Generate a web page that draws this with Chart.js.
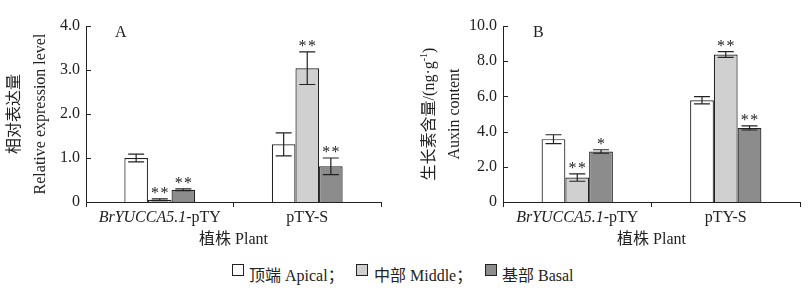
<!DOCTYPE html>
<html>
<head>
<meta charset="utf-8">
<script src="https://cdn.jsdelivr.net/npm/chart.js@4"></script>
<style>
  html, body { margin: 0; padding: 0; background: #fff; }
  #wrap { position: relative; width: 810px; height: 288px; overflow: hidden; }
  #cA { position: absolute; left: 0; top: 0; }
  #cB { position: absolute; left: 400px; top: 0; }
  .lg { position: absolute; top: 262px; font: 16px "Liberation Serif", "Noto Sans CJK SC", serif; color: #222; white-space: nowrap; }
  .box { position: absolute; top: 264px; width: 10px; height: 10px; border: 1px solid #222; }
</style>
</head>
<body>
<div id="wrap">
  <canvas id="cA" width="400" height="250"></canvas>
  <canvas id="cB" width="410" height="250"></canvas>
  <div class="box" style="left:232px;background:#fff"></div>
  <div class="lg" style="left:249px">顶端 Apical；</div>
  <div class="box" style="left:356px;background:#d0d0d0"></div>
  <div class="lg" style="left:374px">中部 Middle；</div>
  <div class="box" style="left:485px;background:#8c8c8c"></div>
  <div class="lg" style="left:502px">基部 Basal</div>
</div>
<script>
// Panel A: relative expression, Panel B: auxin content.
const categories = ['BrYUCCA5.1-pTY', 'pTY-S'];
const seriesNames = ['顶端 Apical', '中部 Middle', '基部 Basal'];
const seriesColors = ['#ffffff', '#d0d0d0', '#8c8c8c'];

const exprApical = [1.0, 1.31];
const exprMiddle = [0.05, 3.04];
const exprBasal = [0.28, 0.81];
const exprApicalErr = [0.09, 0.26];
const exprMiddleErr = [0.02, 0.37];
const exprBasalErr = [0.02, 0.19];
const exprStars = [['', ''], ['**', '**'], ['**', '**']];
const exprTicks = ['0', '1.0', '2.0', '3.0', '4.0'];

const auxApical = [3.57, 5.78];
const auxMiddle = [1.39, 8.38];
const auxBasal = [2.87, 4.21];
const auxApicalErr = [0.25, 0.21];
const auxMiddleErr = [0.21, 0.16];
const auxBasalErr = [0.1, 0.12];
const auxStars = [['', ''], ['**', '**'], ['*', '**']];
const auxTicks = ['0', '2.0', '4.0', '6.0', '8.0', '10.0'];

const SERIF = '"Liberation Serif", "Noto Sans CJK SC", serif';

// error bars, significance stars, inward y ticks, custom labels
const decorPlugin = {
  id: 'decor',
  afterDatasetsDraw(chart, args, o) {
    const ctx = chart.ctx;
    const ys = chart.scales.y, xs = chart.scales.x;
    ctx.save();
    ctx.strokeStyle = '#222';
    ctx.lineWidth = 1.2;
    chart.data.datasets.forEach((ds, i) => {
      const meta = chart.getDatasetMeta(i);
      meta.data.forEach((bar, j) => {
        const v = ds.data[j], e = ds.err[j];
        const yt = ys.getPixelForValue(v + e), yb = ys.getPixelForValue(v - e);
        ctx.beginPath();
        ctx.moveTo(bar.x, yt); ctx.lineTo(bar.x, yb);
        ctx.moveTo(bar.x - 8, yt); ctx.lineTo(bar.x + 8, yt);
        ctx.moveTo(bar.x - 8, yb); ctx.lineTo(bar.x + 8, yb);
        ctx.stroke();
        const s = ds.stars[j];
        if (s) {
          ctx.fillStyle = '#222';
          ctx.font = '16px ' + SERIF;
          ctx.textAlign = 'center';
          ctx.textBaseline = 'alphabetic';
          ctx.fillText(s.split('').join('\u200a'), bar.x, yt - 1);
        }
      });
    });
    // inward y ticks
    ctx.lineWidth = 1;
    ys.ticks.forEach(t => {
      const y = Math.round(ys.getPixelForValue(t.value)) + 0.5;
      ctx.beginPath();
      ctx.moveTo(ys.right, y); ctx.lineTo(ys.right + 5, y);
      ctx.stroke();
    });
    ctx.fillStyle = '#222';
    // panel letter
    ctx.font = '16px ' + SERIF;
    ctx.textAlign = 'left';
    ctx.textBaseline = 'middle';
    ctx.fillText(o.letter, o.letterX, 33);
    // category labels
    const lblY = 218;
    chart.data.labels.forEach((lab, j) => {
      const cx = xs.getPixelForValue(j);
      if (lab.startsWith('BrYUCCA5.1')) {
        const a = 'BrYUCCA5.1', b = lab.slice(a.length);
        ctx.font = 'italic 16px ' + SERIF;
        const wa = ctx.measureText(a).width;
        ctx.font = '16px ' + SERIF;
        const wb = ctx.measureText(b).width;
        const x0 = cx - (wa + wb) / 2;
        ctx.textAlign = 'left';
        ctx.font = 'italic 16px ' + SERIF;
        ctx.fillText(a, x0, lblY);
        ctx.font = '16px ' + SERIF;
        ctx.fillText(b, x0 + wa, lblY);
      } else {
        ctx.textAlign = 'center';
        ctx.font = '16px ' + SERIF;
        ctx.fillText(lab, cx, lblY);
      }
    });
    // x title
    ctx.textAlign = 'center';
    ctx.font = '16px ' + SERIF;
    ctx.fillText('植株 Plant', (xs.left + xs.right) / 2, 240);
    // y titles (rotated)
    const cy = (ys.top + ys.bottom) / 2;
    o.yTitles.forEach((t, k) => {
      ctx.save();
      ctx.translate(o.yTitleX[k], cy);
      ctx.rotate(-Math.PI / 2);
      ctx.textBaseline = 'middle';
      ctx.font = '16px ' + SERIF;
      if (Array.isArray(t)) {
        // [main, superscript, tail]
        const w0 = ctx.measureText(t[0]).width;
        ctx.font = '10px ' + SERIF;
        const w1 = ctx.measureText(t[1]).width;
        ctx.font = '16px ' + SERIF;
        const w2 = ctx.measureText(t[2]).width;
        let x = -(w0 + w1 + w2) / 2;
        ctx.textAlign = 'left';
        ctx.fillText(t[0], x, 0); x += w0;
        ctx.font = '10px ' + SERIF;
        ctx.fillText(t[1], x, -6); x += w1;
        ctx.font = '16px ' + SERIF;
        ctx.fillText(t[2], x, 0);
      } else {
        ctx.textAlign = 'center';
        ctx.fillText(t, 0, 0);
      }
      ctx.restore();
    });
    ctx.restore();
  }
};

function makeChart(id, vals, errs, stars, ticks, max, step, padLeft, padRight, opts) {
  const datasets = seriesNames.map((n, i) => ({
    label: n,
    data: vals[i],
    err: errs[i],
    stars: stars[i],
    backgroundColor: seriesColors[i],
    borderColor: '#222',
    borderWidth: 1.2,
    barPercentage: 1,
    categoryPercentage: 0.48
  }));
  return new Chart(document.getElementById(id), {
    type: 'bar',
    data: { labels: categories, datasets },
    options: {
      responsive: false,
      animation: false,
      events: [],
      layout: { padding: { left: padLeft, right: padRight, top: 26, bottom: 28 } },
      plugins: { legend: { display: false }, tooltip: { enabled: false }, decor: opts },
      scales: {
        x: {
          grid: { display: true, offset: true, drawOnChartArea: false, drawTicks: true, tickLength: 5, color: '#222' },
          border: { color: '#222', width: 1 },
          ticks: { color: 'transparent', font: { size: 1 } },
          afterFit: s => { s.height = 20; }
        },
        y: {
          min: 0, max: max,
          grid: { display: false, drawTicks: false },
          border: { color: '#222', width: 1 },
          ticks: {
            stepSize: step, padding: 6, color: '#222',
            font: { family: SERIF, size: 16 },
            callback: (v, idx) => ticks[idx]
          },
          afterFit: s => { s.width = 40; }
        }
      }
    },
    plugins: [decorPlugin]
  });
}

makeChart('cA',
  [exprApical, exprMiddle, exprBasal],
  [exprApicalErr, exprMiddleErr, exprBasalErr],
  exprStars, exprTicks, 4, 1, 46, 19,
  { letter: 'A', letterX: 115, yTitles: ['相对表达量', 'Relative expression level'], yTitleX: [15, 41] });

makeChart('cB',
  [auxApical, auxMiddle, auxBasal],
  [auxApicalErr, auxMiddleErr, auxBasalErr],
  auxStars, auxTicks, 10, 2, 63, 10,
  { letter: 'B', letterX: 133, yTitles: [['生长素含量/(ng·g', '-1', ')'], 'Auxin content'], yTitleX: [30, 55] });
</script>
</body>
</html>
